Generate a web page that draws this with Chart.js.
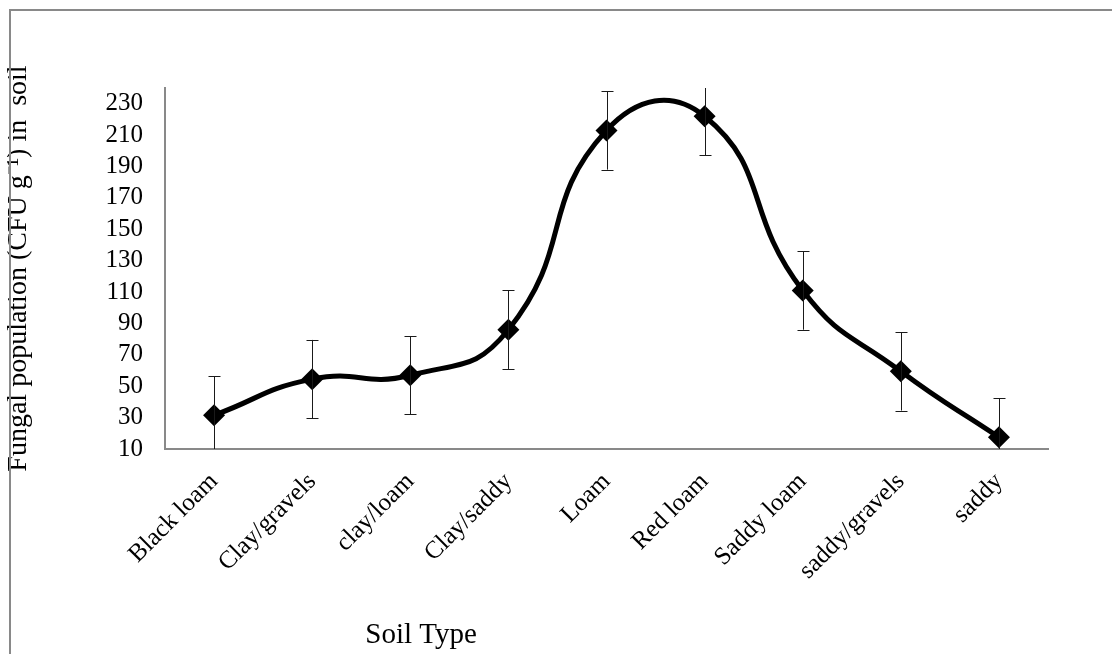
<!DOCTYPE html>
<html>
<head>
<meta charset="utf-8">
<title>Fungal population by soil type</title>
<script src="https://cdn.jsdelivr.net/npm/chart.js@4.4.1/dist/chart.umd.min.js"></script>
<style>
    body { margin: 0; background: #fff; overflow: hidden; }
    #chart-box { width: 1112px; height: 654px; }
</style>
</head>
<body>
<div id="chart-box">
    <canvas id="line-chart" width="1112" height="654"></canvas>
</div>
<script>
const soilTypes = ['Black loam', 'Clay/gravels', 'clay/loam', 'Clay/saddy', 'Loam',
    'Red loam', 'Saddy loam', 'saddy/gravels', 'saddy'];
const fungalPop = [31.5, 54.5, 57, 86, 213, 222, 111, 59.5, 17.5];
const fungalErr = [25, 25, 25, 25, 25, 25, 25, 25, 25];
const yTickValues = [10, 30, 50, 70, 90, 110, 130, 150, 170, 190, 210, 230];

const serif = "'Liberation Serif', 'Times New Roman', serif";
const axisGray = '#898989';

// error bars drawn from the y scale, clipped to the plot
const errorBars = {
    id: 'errorBars',
    afterDatasetsDraw(chart) {
        const ctx = chart.ctx;
        const area = chart.chartArea;
        const yScale = chart.scales.y;
        const meta = chart.getDatasetMeta(0);
        ctx.save();
        ctx.beginPath();
        ctx.rect(area.left, area.top, area.right - area.left, area.bottom - area.top);
        ctx.clip();
        ctx.strokeStyle = '#1a1a1a';
        ctx.lineWidth = 1;
        meta.data.forEach((pt, i) => {
            const x = Math.round(pt.x) + 0.5;
            const yTop = yScale.getPixelForValue(fungalPop[i] + fungalErr[i]);
            const yBot = yScale.getPixelForValue(fungalPop[i] - fungalErr[i]);
            ctx.beginPath();
            ctx.moveTo(x, yTop);
            ctx.lineTo(x, yBot);
            ctx.moveTo(x - 6, Math.round(yTop) + 0.5);
            ctx.lineTo(x + 6, Math.round(yTop) + 0.5);
            ctx.moveTo(x - 6, Math.round(yBot) + 0.5);
            ctx.lineTo(x + 6, Math.round(yBot) + 0.5);
            ctx.stroke();
        });
        ctx.restore();
    }
};

// outer frame and the x title, which sits left of centre in the original
const frameAndTitle = {
    id: 'frameAndTitle',
    afterDraw(chart) {
        const ctx = chart.ctx;
        const area = chart.chartArea;
        ctx.save();
        ctx.strokeStyle = axisGray;
        ctx.lineWidth = 2;
        ctx.strokeRect(10, 10, 1300, 1000);
        ctx.fillStyle = '#000';
        ctx.font = '29px ' + serif;
        ctx.textAlign = 'center';
        ctx.textBaseline = 'alphabetic';
        ctx.fillText('Soil Type', area.left + (area.right - area.left) * 0.29, 643);
        ctx.restore();
    }
};

function renderChart() {
    const ctx = document.getElementById('line-chart').getContext('2d');

    new Chart(ctx, {
        type: 'line',
        data: {
            labels: soilTypes,
            datasets: [{
                label: 'Fungal population',
                data: fungalPop,
                borderColor: '#000',
                backgroundColor: '#000',
                borderWidth: 5,
                tension: 0.5,
                pointStyle: 'rectRot',
                pointRadius: 11,
                pointBorderWidth: 0,
                pointBackgroundColor: '#000',
                fill: false
            }]
        },
        options: {
            responsive: false,
            animation: false,
            layout: {
                padding: { top: 88, right: 64, left: 0, bottom: 0 }
            },
            plugins: {
                legend: { display: false },
                tooltip: { enabled: false }
            },
            scales: {
                x: {
                    offset: true,
                    grid: { display: false, drawTicks: false },
                    border: { color: axisGray, width: 2 },
                    ticks: {
                        color: '#000',
                        font: { family: serif, size: 25 },
                        minRotation: 45,
                        maxRotation: 45,
                        autoSkip: false,
                        padding: 18
                    },
                    afterFit(scale) { scale.height = 205; }
                },
                y: {
                    min: 10,
                    max: 240,
                    grid: { display: false, drawTicks: false },
                    border: { color: axisGray, width: 2 },
                    ticks: {
                        color: '#000',
                        font: { family: serif, size: 25 },
                        autoSkip: false,
                        padding: 22
                    },
                    afterBuildTicks(scale) {
                        scale.ticks = yTickValues.map(v => ({ value: v }));
                    },
                    title: {
                        display: true,
                        text: 'Fungal population (CFU g\u207B\u00B9) in  soil',
                        color: '#000',
                        font: { family: serif, size: 28 },
                        padding: { top: 2, bottom: 0 }
                    },
                    afterFit(scale) { scale.width = 165; }
                }
            }
        },
        plugins: [errorBars, frameAndTitle]
    });
}

renderChart();
</script>
</body>
</html>
